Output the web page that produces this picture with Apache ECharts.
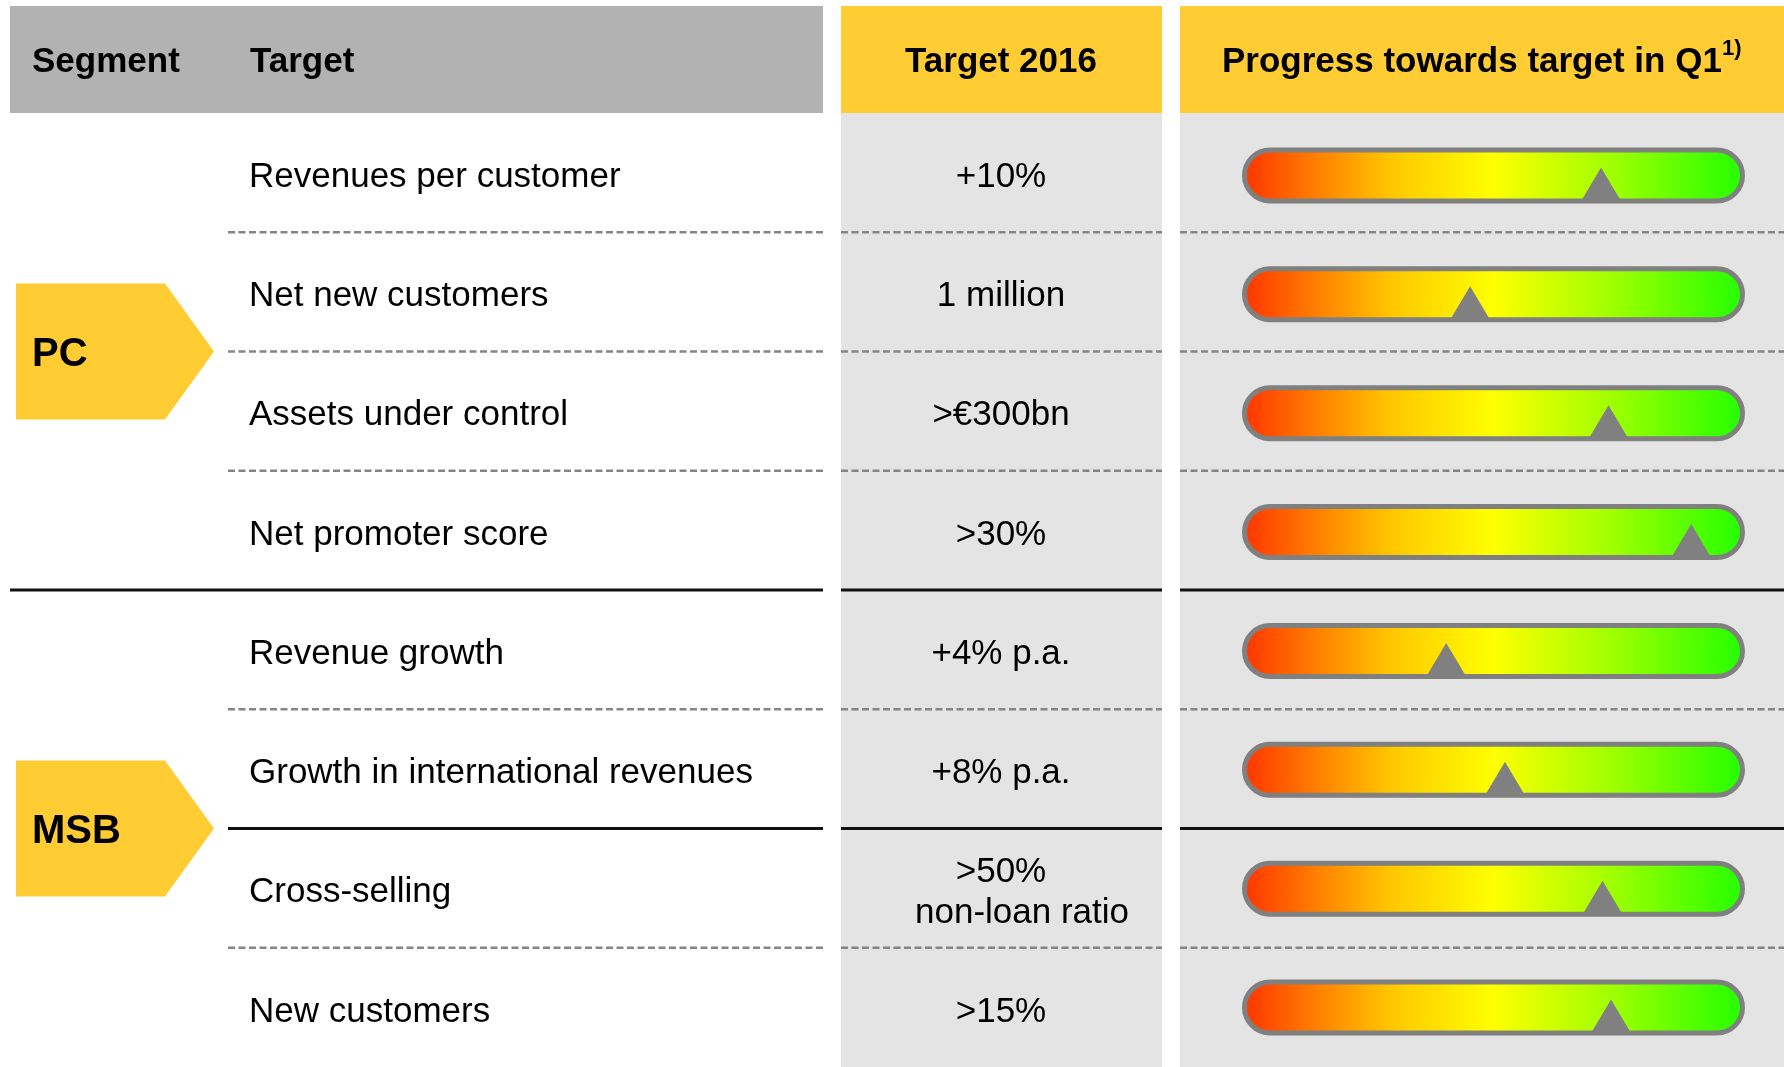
<!DOCTYPE html>
<html>
<head>
<meta charset="utf-8">
<title>Targets 2016 - progress in Q1</title>
<script src="https://cdn.jsdelivr.net/npm/echarts@6/dist/echarts.min.js"></script>
<style>
  html, body { margin: 0; padding: 0; background: #fff; }
  #main { width: 1784px; height: 1067px; }
</style>
</head>
<body>
<div id="main"></div>
<script>
// column headers
var headers = ['Segment', 'Target', 'Target 2016', 'Progress towards target in Q1'];
var footnoteMark = '1)';

// segments and the rows they span
var segments = ['PC', 'MSB'];
var segmentFirstRow = [0, 4];
var segmentLastRow = [3, 7];

var targets = [
    'Revenues per customer',
    'Net new customers',
    'Assets under control',
    'Net promoter score',
    'Revenue growth',
    'Growth in international revenues',
    'Cross-selling',
    'New customers'
];
var targetValues = [
    '+10%',
    '1 million',
    '>€300bn',
    '>30%',
    '+4% p.a.',
    '+8% p.a.',
    '>50%\nnon-loan ratio',
    '>15%'
];
// where the marker sits on the red -> green scale (0..100)
var progress = [71.6, 45.3, 73.1, 89.7, 40.5, 52.3, 71.9, 73.6];
// rule under each row
var rowRule = ['dash', 'dash', 'dash', 'solid', 'dash', 'solid', 'dash', 'none'];

var FONT = '"Liberation Sans", Arial, Helvetica, sans-serif';
var COL2_MID = 1001;

function txt(s, x, y, align, weight, size, vAlign) {
    return {
        type: 'text',
        x: x,
        y: y,
        style: {
            text: s,
            fill: '#000',
            fontSize: size,
            fontWeight: weight,
            fontFamily: FONT,
            align: align,
            textAlign: align,
            verticalAlign: vAlign || 'middle',
            textVerticalAlign: vAlign || 'middle'
        }
    };
}

var scaleGradient = new echarts.graphic.LinearGradient(0, 0, 1, 0, [
    { offset: 0, color: '#ff3300' },
    { offset: 0.15, color: '#ff8000' },
    { offset: 0.3, color: '#ffc800' },
    { offset: 0.5, color: '#ffff00' },
    { offset: 0.75, color: '#99ff00' },
    { offset: 1, color: '#22ff00' }
]);

var myChart = echarts.init(document.getElementById('main'));

myChart.setOption({
    animation: false,
    backgroundColor: '#fff',
    grid: [
        { left: 0, width: 1784, top: 113, height: 960 },
        { left: 1244.5, width: 498, top: 116, height: 960 }
    ],
    xAxis: [
        { gridIndex: 0, type: 'value', min: 0, max: 1784, show: false },
        { gridIndex: 1, type: 'value', min: 0, max: 100, show: false }
    ],
    yAxis: [
        { gridIndex: 0, type: 'category', data: targets, inverse: true, show: false },
        { gridIndex: 1, type: 'category', data: targets, inverse: true, show: false }
    ],
    graphic: [
        { type: 'rect', z: 0, shape: { x: 10, y: 6, width: 813, height: 107 }, style: { fill: '#b2b2b2' } },
        { type: 'rect', z: 0, shape: { x: 841, y: 6, width: 321, height: 107 }, style: { fill: '#ffcc33' } },
        { type: 'rect', z: 0, shape: { x: 1180, y: 6, width: 604, height: 107 }, style: { fill: '#ffcc33' } },
        { type: 'rect', z: 0, shape: { x: 841, y: 113, width: 321, height: 960 }, style: { fill: '#e4e4e4' } },
        { type: 'rect', z: 0, shape: { x: 1180, y: 113, width: 604, height: 960 }, style: { fill: '#e4e4e4' } },
        Object.assign(txt(headers[0], 32, 62.5, 'left', 'bold', 35), { z: 10 }),
        Object.assign(txt(headers[1], 250, 62.5, 'left', 'bold', 35), { z: 10 }),
        Object.assign(txt(headers[2], COL2_MID, 62.5, 'center', 'bold', 35), { z: 10 }),
        Object.assign(txt(headers[3], 1222, 62.5, 'left', 'bold', 35), { z: 10 }),
        Object.assign(txt(footnoteMark, 1722, 49, 'left', 'bold', 22), { z: 10 })
    ],
    series: [
        {
            // table rows: target, value and rule under the row
            type: 'custom',
            xAxisIndex: 0,
            yAxisIndex: 0,
            silent: true,
            encode: { x: 0, y: 1 },
            data: targets.map(function (t, i) { return [0, i]; }),
            renderItem: function (params, api) {
                var i = api.value(1);
                var c = api.coord([0, i]);
                var band = api.size([0, 1])[1];
                var cy = c[1] + 4.5;
                var yb = c[1] + band / 2;
                var children = [];
                children.push(txt(targets[i], 249, cy, 'left', 'normal', 35));
                var lines = targetValues[i].split('\n');
                lines.forEach(function (ln, j) {
                    var ly = cy + (j - (lines.length - 1) / 2) * 41;
                    children.push(txt(ln, COL2_MID + (j ? 21 : 0), ly, 'center', 'normal', 35));
                });
                var kind = rowRule[i];
                if (kind !== 'none') {
                    var x0 = segmentLastRow.indexOf(i) >= 0 ? 10 : 228;
                    [[x0, 823], [841, 1162], [1180, 1784]].forEach(function (s) {
                        children.push({
                            type: 'line',
                            shape: { x1: s[0], y1: yb, x2: s[1], y2: yb },
                            style: kind === 'dash'
                                ? { stroke: '#858585', lineWidth: 2.5, lineDash: [7, 3.5] }
                                : { stroke: '#111', lineWidth: 3 }
                        });
                    });
                }
                return { type: 'group', children: children };
            }
        },
        {
            // segment chevrons
            type: 'custom',
            xAxisIndex: 0,
            yAxisIndex: 0,
            silent: true,
            encode: { x: 0, y: 1 },
            data: segments.map(function (s, k) { return [0, segmentFirstRow[k]]; }),
            renderItem: function (params, api) {
                var k = params.dataIndex;
                var y0 = api.coord([0, segmentFirstRow[k]])[1];
                var y1 = api.coord([0, segmentLastRow[k]])[1];
                var cy = (y0 + y1) / 2;
                var h = 68;
                return {
                    type: 'group',
                    children: [
                        {
                            type: 'polygon',
                            shape: { points: [[16, cy - h], [165, cy - h], [214, cy], [165, cy + h], [16, cy + h]] },
                            style: { fill: '#ffcc33' }
                        },
                        txt(segments[k], 32, cy + 3, 'left', 'bold', 40)
                    ]
                };
            }
        },
        {
            // red -> green scale
            type: 'custom',
            xAxisIndex: 1,
            yAxisIndex: 1,
            silent: true,
            encode: { x: 0, y: 1 },
            data: progress.map(function (v, i) { return [0, i]; }),
            renderItem: function (params, api) {
                var i = api.value(1);
                var a = api.coord([0, i]);
                var b = api.coord([100, i]);
                var h = 51;
                return {
                    type: 'rect',
                    shape: { x: a[0], y: a[1] - h / 2, width: b[0] - a[0], height: h, r: h / 2 },
                    style: { fill: scaleGradient, stroke: '#808080', lineWidth: 5 }
                };
            }
        },
        {
            // progress marker
            type: 'scatter',
            xAxisIndex: 1,
            yAxisIndex: 1,
            silent: true,
            clip: false,
            z: 5,
            symbol: 'triangle',
            symbolSize: [38, 32],
            symbolOffset: [0, 8],
            itemStyle: { color: '#808080', opacity: 1 },
            data: progress.map(function (v, i) { return [v, i]; })
        }
    ]
});
</script>
</body>
</html>
